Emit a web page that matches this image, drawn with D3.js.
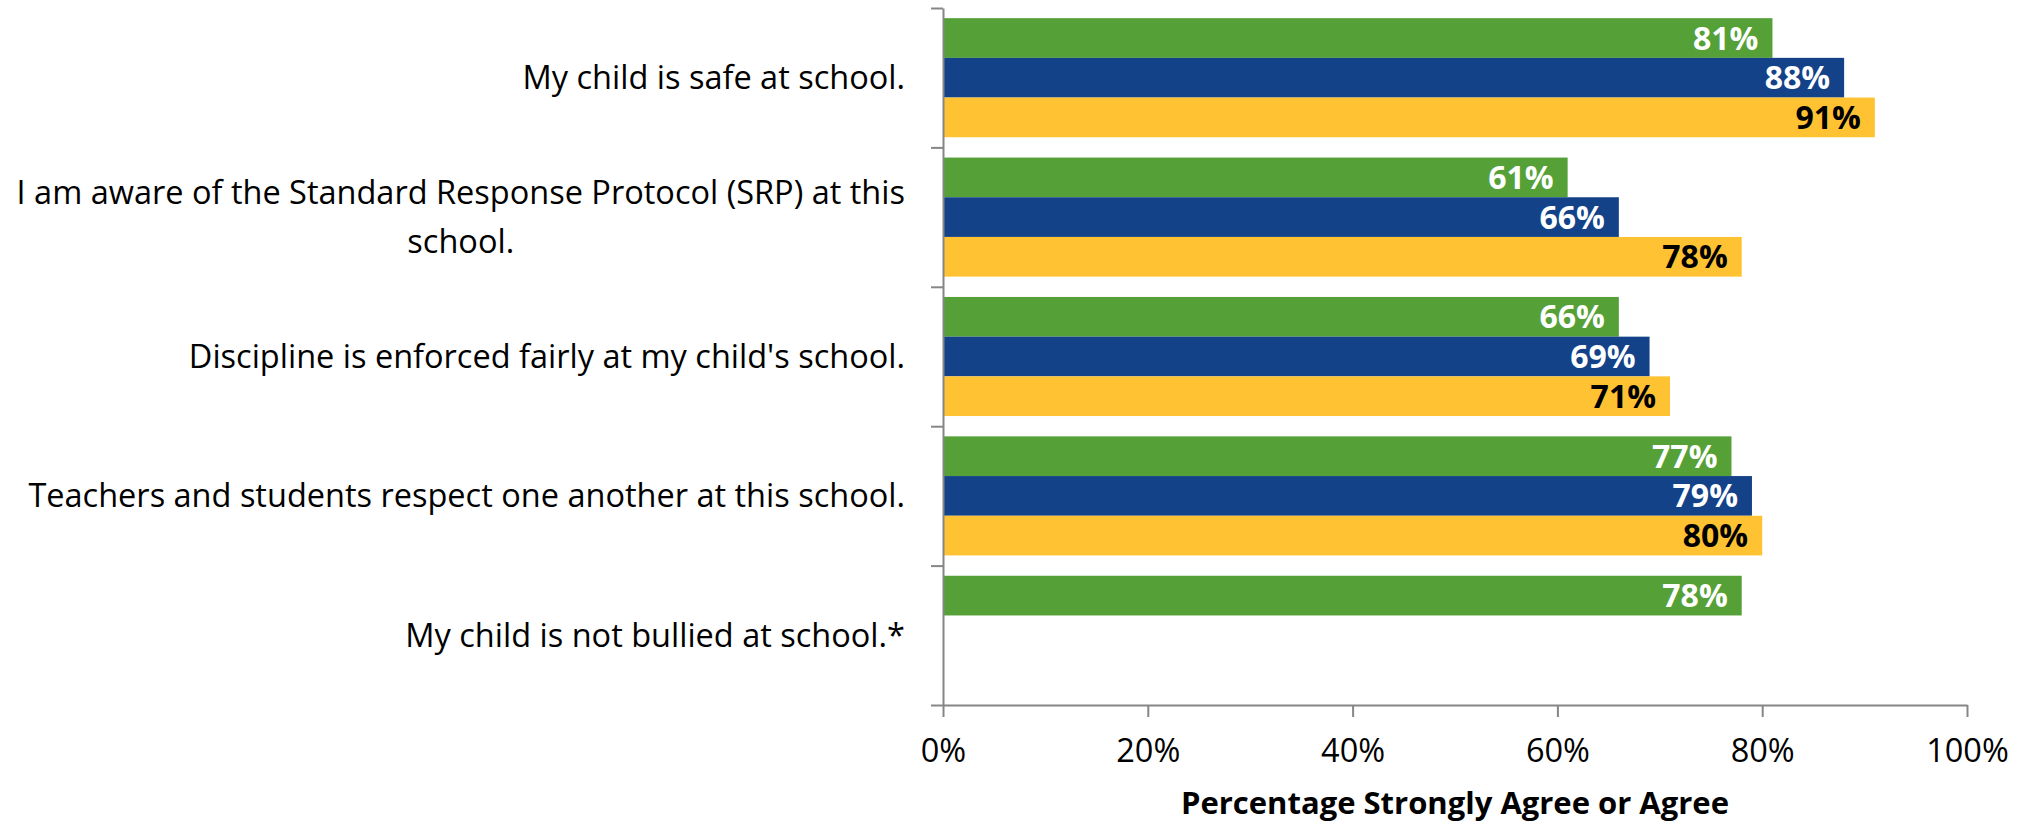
<!DOCTYPE html>
<html><head><meta charset="utf-8">
<script src="https://cdn.jsdelivr.net/npm/d3@7"></script>
<style>body{margin:0;background:#fff} svg{display:block}</style>
</head><body>
<svg id="c" width="2028" height="828"></svg>
<script>
const categories = [
  "My child is safe at school.",
  "I am aware of the Standard Response Protocol (SRP) at this\nschool.",
  "Discipline is enforced fairly at my child's school.",
  "Teachers and students respect one another at this school.",
  "My child is not bullied at school.*"
];
const seriesNames = ["Series 1", "Series 2", "Series 3"];
const series1 = [81, 61, 66, 77, 78];
const series2 = [88, 66, 69, 79, null];
const series3 = [91, 78, 71, 80, null];
const tickValues = [0, 20, 40, 60, 80, 100];
const axisTitle = "Percentage Strongly Agree or Agree";

(function () {
const colors = ["#55A138", "#134289", "#FFC232"];
const labelColors = ["#ffffff", "#ffffff", "#000000"];
const FONT = "'Open Sans', sans-serif";

const svg = d3.select("#c");
const mLeft = 943, mRight = 1967, mTop = 8, mBottom = 705;

const x = d3.scaleLinear().domain([0, 100]).range([mLeft, mRight]);
const y = d3.scaleBand().domain(d3.range(categories.length)).range([mTop, mBottom]);
const yEdge = d3.scaleLinear().domain([0, categories.length]).range([mTop, mBottom]);
const ys = d3.scaleBand().domain(d3.range(3)).range([0, y.bandwidth()]).paddingOuter(0.256);

const allSeries = [series1, series2, series3];
const bars = [];
allSeries.forEach((s, si) => s.forEach((v, ci) => { if (v != null) bars.push({si, ci, v}); }));

svg.append("g").selectAll("rect").data(bars).join("rect")
  .attr("x", x(0))
  .attr("y", d => y(d.ci) + ys(d.si))
  .attr("width", d => x(d.v) - x(0))
  .attr("height", ys.bandwidth())
  .attr("fill", d => colors[d.si]);

svg.append("g").selectAll("text").data(bars).join("text")
  .attr("x", d => x(d.v) - 14)
  .attr("y", d => y(d.ci) + ys(d.si) + ys.bandwidth() / 2 + 11.5)
  .attr("text-anchor", "end")
  .attr("font-family", FONT)
  .attr("font-weight", "bold")
  .attr("font-size", 32)
  .attr("fill", d => labelColors[d.si])
  .text(d => d.v + "%");

// x axis
const gx = svg.append("g").attr("transform", `translate(0,${mBottom})`)
  .call(d3.axisBottom(x).tickValues(tickValues).tickFormat(d => d + "%").tickSize(12).tickSizeOuter(0).tickPadding(22));
gx.select(".domain").attr("stroke", "#868686").attr("stroke-width", 2);
gx.selectAll(".tick line").attr("stroke", "#868686").attr("stroke-width", 2);
gx.selectAll(".tick text").attr("font-family", FONT).attr("font-size", 32.5).attr("fill", "#000");

// y axis (ticks at category boundaries)
const gy = svg.append("g").attr("transform", `translate(${mLeft},0)`)
  .call(d3.axisLeft(yEdge).tickValues(d3.range(categories.length + 1)).tickFormat("").tickSize(12).tickSizeOuter(0));
gy.select(".domain").attr("stroke", "#868686").attr("stroke-width", 2);
gy.selectAll(".tick line").attr("stroke", "#868686").attr("stroke-width", 2);

// category labels
const labelRight = 905, lineH = 49;
const catG = svg.append("g").attr("font-family", FONT).attr("font-size", 32.5).attr("fill", "#000");
categories.forEach((c, i) => {
  const lines = c.split("\n");
  const cy = y(i) + y.bandwidth() / 2;
  const t = catG.append("text");
  const spans = lines.map((ln, k) => t.append("tspan")
    .attr("y", cy + 11.5 + (k - (lines.length - 1) / 2) * lineH).text(ln));
  const maxW = d3.max(spans, s => s.node().getComputedTextLength());
  const cx = labelRight - maxW / 2;
  spans.forEach(s => s.attr("x", cx).attr("text-anchor", "middle"));
});

// axis title
svg.append("text")
  .attr("x", (mLeft + mRight) / 2)
  .attr("y", 814)
  .attr("text-anchor", "middle")
  .attr("font-family", FONT)
  .attr("font-weight", "bold")
  .attr("font-size", 31)
  .attr("fill", "#000")
  .text(axisTitle);
})();
</script>
</body></html>
